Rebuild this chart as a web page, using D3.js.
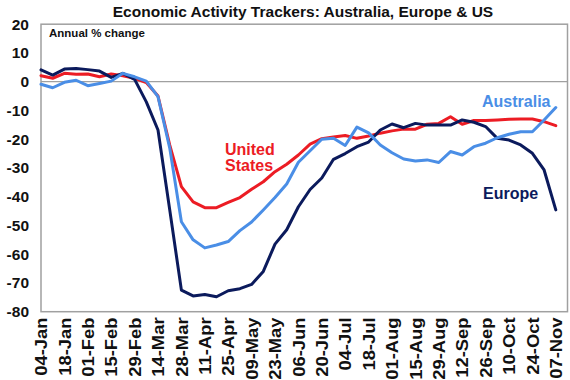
<!DOCTYPE html>
<html>
<head>
<meta charset="utf-8">
<script src="https://cdn.jsdelivr.net/npm/d3@7/dist/d3.min.js"></script>
<style>
  html, body { margin: 0; padding: 0; background: #ffffff; }
  svg { display: block; font-family: "Liberation Sans", Arial, Helvetica, sans-serif; }
</style>
</head>
<body>
<svg id="chart" width="570" height="380"></svg>
<script>
const dates = ["04-Jan","11-Jan","18-Jan","25-Jan","01-Feb","08-Feb","15-Feb","22-Feb","29-Feb","07-Mar",
  "14-Mar","21-Mar","28-Mar","04-Apr","11-Apr","18-Apr","25-Apr","02-May","09-May","16-May",
  "23-May","30-May","06-Jun","13-Jun","20-Jun","27-Jun","04-Jul","11-Jul","18-Jul","25-Jul",
  "01-Aug","08-Aug","15-Aug","22-Aug","29-Aug","05-Sep","12-Sep","19-Sep","26-Sep","03-Oct",
  "10-Oct","17-Oct","24-Oct","31-Oct","07-Nov"];

const europe = [4.1, 2.3, 4.4, 4.6, 4.2, 3.7, 1.5, 2.9, 0.8, -7.0,
  -16.8, -44.5, -72.5, -74.5, -74.0, -74.8, -72.7, -72.0, -70.5, -66.0,
  -56.5, -51.5, -43.5, -37.5, -33.5, -27.0, -25.0, -22.6, -21.0, -16.8,
  -14.7, -16.0, -14.5, -15.1, -15.1, -15.1, -13.3, -14.1, -15.6, -19.7,
  -20.3, -22.0, -24.9, -30.7, -44.6];

const australia = [-0.9, -2.1, -0.2, 0.5, -1.4, -0.6, 0.2, 2.9, 1.7, 0.2,
  -5.2, -23.0, -48.7, -55.0, -57.8, -56.8, -55.6, -51.8, -48.8, -44.6,
  -40.3, -35.6, -28.0, -24.0, -20.0, -19.7, -22.2, -15.8, -17.8, -22.0,
  -24.7, -26.9, -27.6, -27.2, -28.1, -24.3, -25.5, -22.6, -21.4, -19.5,
  -18.3, -17.4, -17.4, -13.3, -9.0];

const unitedStates = [2.1, 1.2, 2.9, 2.6, 2.7, 1.7, 2.7, 2.1, 1.2, -0.3,
  -5.0, -22.0, -36.5, -41.8, -43.8, -43.8, -42.0, -40.3, -37.4, -34.8,
  -31.3, -28.7, -25.5, -21.7, -19.8, -19.2, -18.7, -19.7, -18.9, -17.9,
  -17.1, -16.5, -16.5, -14.8, -14.5, -12.2, -14.8, -13.5, -13.5, -13.3,
  -13.1, -13.0, -13.0, -13.9, -15.3];

const yTicks = [20, 10, 0, -10, -20, -30, -40, -50, -60, -70, -80];
const xTickIdx = d3.range(0, dates.length, 2);

const title = "Economic Activity Trackers: Australia, Europe & US";
const unitLabel = "Annual % change";

const colors = { europe: "#0b1a5c", australia: "#4a8ee6", us: "#ec1c24" };

const svg = d3.select("#chart");
const L = 41, R = 567.5, T = 24.2, B = 311.7;

const x = d3.scaleLinear().domain([0, dates.length]).range([L, R]);
const y = d3.scaleLinear().domain([-80, 20]).range([B, T]);

// Title
svg.append("text")
  .attr("x", 303).attr("y", 16.5)
  .attr("text-anchor", "middle")
  .attr("font-size", "15.5px").attr("font-weight", "bold")
  .attr("fill", "#111")
  .text(title);

// plot frame
svg.append("rect")
  .attr("x", L).attr("y", T).attr("width", R - L).attr("height", B - T)
  .attr("fill", "none").attr("stroke", "#a0a0a0").attr("stroke-width", 1.5);

// zero line
svg.append("line")
  .attr("x1", L).attr("x2", R).attr("y1", y(0)).attr("y2", y(0))
  .attr("stroke", "#a0a0a0").attr("stroke-width", 1.3);

// Y axis
const yAxis = svg.append("g")
  .attr("transform", `translate(${L},0)`)
  .call(d3.axisLeft(y).tickValues(yTicks).tickSize(0).tickPadding(12).tickFormat(d => String(d)));
yAxis.select(".domain").remove();
yAxis.selectAll("text")
  .attr("font-size", "15.5px").attr("font-weight", "bold").attr("fill", "#111")
  .attr("font-family", "'Liberation Sans', Arial, sans-serif");

// X axis
const xAxis = svg.append("g")
  .attr("transform", `translate(0,${B})`)
  .call(d3.axisBottom(x).tickValues(xTickIdx).tickSize(0).tickFormat(i => dates[i]));
xAxis.select(".domain").remove();
xAxis.selectAll("text")
  .attr("font-size", "16px").attr("font-weight", "bold").attr("fill", "#111")
  .attr("font-family", "'Liberation Sans', Arial, sans-serif")
  .attr("text-anchor", "end")
  .attr("x", -5).attr("y", 0).attr("dy", "0.36em")
  .attr("transform", "rotate(-90) scale(1.15,1)");

// unit label
svg.append("text")
  .attr("x", 49).attr("y", 37)
  .attr("font-size", "11.5px").attr("font-weight", "bold").attr("fill", "#111")
  .text(unitLabel);

// lines
const line = d3.line().x((d, i) => x(i)).y(d => y(d));
const series = [
  { key: "us", values: unitedStates },
  { key: "europe", values: europe },
  { key: "australia", values: australia }
];
svg.append("g").selectAll("path").data(series).join("path")
  .attr("d", d => line(d.values))
  .attr("fill", "none")
  .attr("stroke", d => colors[d.key])
  .attr("stroke-width", 3)
  .attr("stroke-linejoin", "round")
  .attr("stroke-linecap", "round");

// series labels
const lab = svg.append("g").attr("font-size", "16px").attr("font-weight", "bold");
lab.append("text").attr("x", 225).attr("y", 155).attr("fill", colors.us).text("United");
lab.append("text").attr("x", 225).attr("y", 171).attr("fill", colors.us).text("States");
lab.append("text").attr("x", 482).attr("y", 107).attr("fill", colors.australia).text("Australia");
lab.append("text").attr("x", 483).attr("y", 199).attr("fill", colors.europe).text("Europe");
</script>
</body>
</html>
